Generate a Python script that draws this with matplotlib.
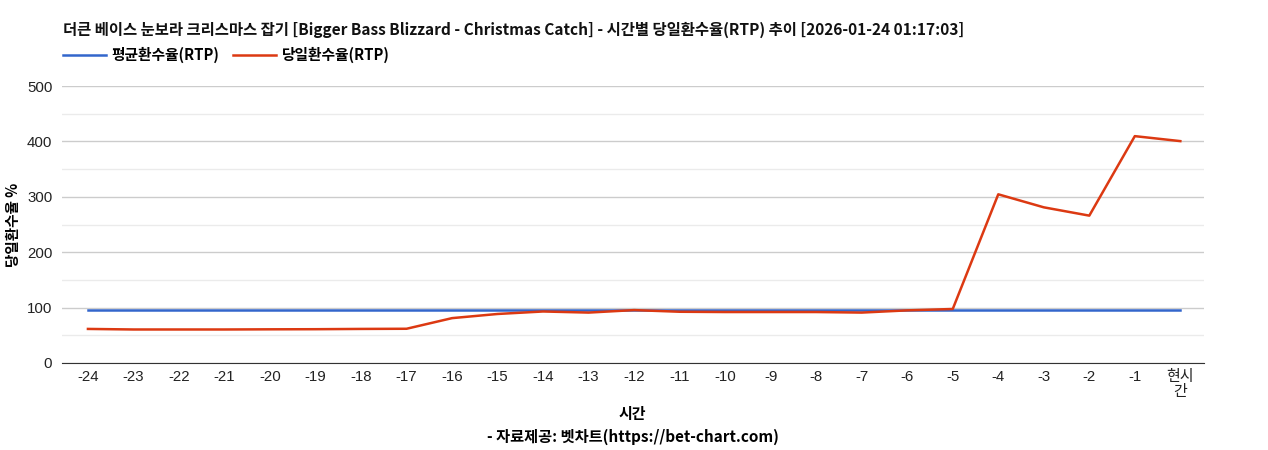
import matplotlib
matplotlib.use("Agg")
import matplotlib.pyplot as plt
from matplotlib.ticker import MultipleLocator

plt.rcParams['font.family'] = ['Noto Sans CJK KR', 'DejaVu Sans']

# data
hours = ['-24', '-23', '-22', '-21', '-20', '-19', '-18', '-17', '-16', '-15',
         '-14', '-13', '-12', '-11', '-10', '-9', '-8', '-7', '-6', '-5',
         '-4', '-3', '-2', '-1', '현시\n간']
avg_rtp = [96.5] * 25
day_rtp = [61.5, 60.5, 60.5, 60.5, 60.8, 61, 61.5, 61.8, 81, 88.5,
           93, 91, 95.5, 92.5, 92, 92, 92, 91, 95, 97.5,
           304.5, 281, 266, 409.5, 400.5]

title = '더큰 베이스 눈보라 크리스마스 잡기 [Bigger Bass Blizzard - Christmas Catch] - 시간별 당일환수율(RTP) 추이 [2026-01-24 01:17:03]'

fig = plt.figure(figsize=(12.68, 4.5), dpi=100)
ax = fig.add_axes([62 / 1268, 1 - 363 / 450, (1204 - 62) / 1268, (363 - 86) / 450])

x = list(range(len(hours)))
ax.plot(x, avg_rtp, color='#3366cc', lw=1.8, label='평균환수율(RTP)', zorder=3)
ax.plot(x, day_rtp, color='#dc3912', lw=1.8, label='당일환수율(RTP)', zorder=4)

ax.set_xlim(-0.57, len(hours) - 1 + 0.52)
ax.set_ylim(0, 500)
ax.yaxis.set_major_locator(MultipleLocator(100))
ax.yaxis.set_minor_locator(MultipleLocator(50))
ax.grid(which='major', axis='y', color='#cccccc', lw=1)
ax.grid(which='minor', axis='y', color='#ebebeb', lw=1)
ax.set_axisbelow(True)

for s in ['top', 'right', 'left']:
    ax.spines[s].set_visible(False)
ax.spines['bottom'].set_color('#333333')
ax.spines['bottom'].set_zorder(5)

ax.set_xticks(x)
ax.set_xticklabels(hours)
ax.tick_params(axis='both', which='both', length=0, labelsize=10.8, colors='#222222')
ax.tick_params(axis='x', pad=5)
ax.tick_params(axis='y', pad=7)
for lab in ax.get_xticklabels() + ax.get_yticklabels():
    lab.set_family(['Liberation Sans', 'Noto Sans CJK KR'])
    lab.set_linespacing(1.1)

fig.text(63 / 1268, 1 - 30 / 450, title, fontsize=11.1, fontweight='bold',
         va='center', ha='left', color='#111111')
fig.legend(loc='center left', bbox_to_anchor=(50 / 1268, 1 - 55 / 450), ncol=2,
           frameon=False, prop={'weight': 'bold', 'size': 10.6},
           handlelength=2.9, handletextpad=0.4, columnspacing=0.9)

fig.text(13 / 1268, 1 - 225 / 450, '당일환수율 %', rotation=90, fontsize=10.5,
         fontweight='bold', ha='center', va='center')
fig.text(632 / 1268, 1 - 414 / 450, '시간', fontsize=10.8, fontweight='bold',
         ha='center', va='center')
fig.text(633 / 1268, 1 - 437 / 450, '- 자료제공: 벳차트(https://bet-chart.com)',
         fontsize=11, fontweight='bold', ha='center', va='center')

fig.savefig('out.png', dpi=100)
